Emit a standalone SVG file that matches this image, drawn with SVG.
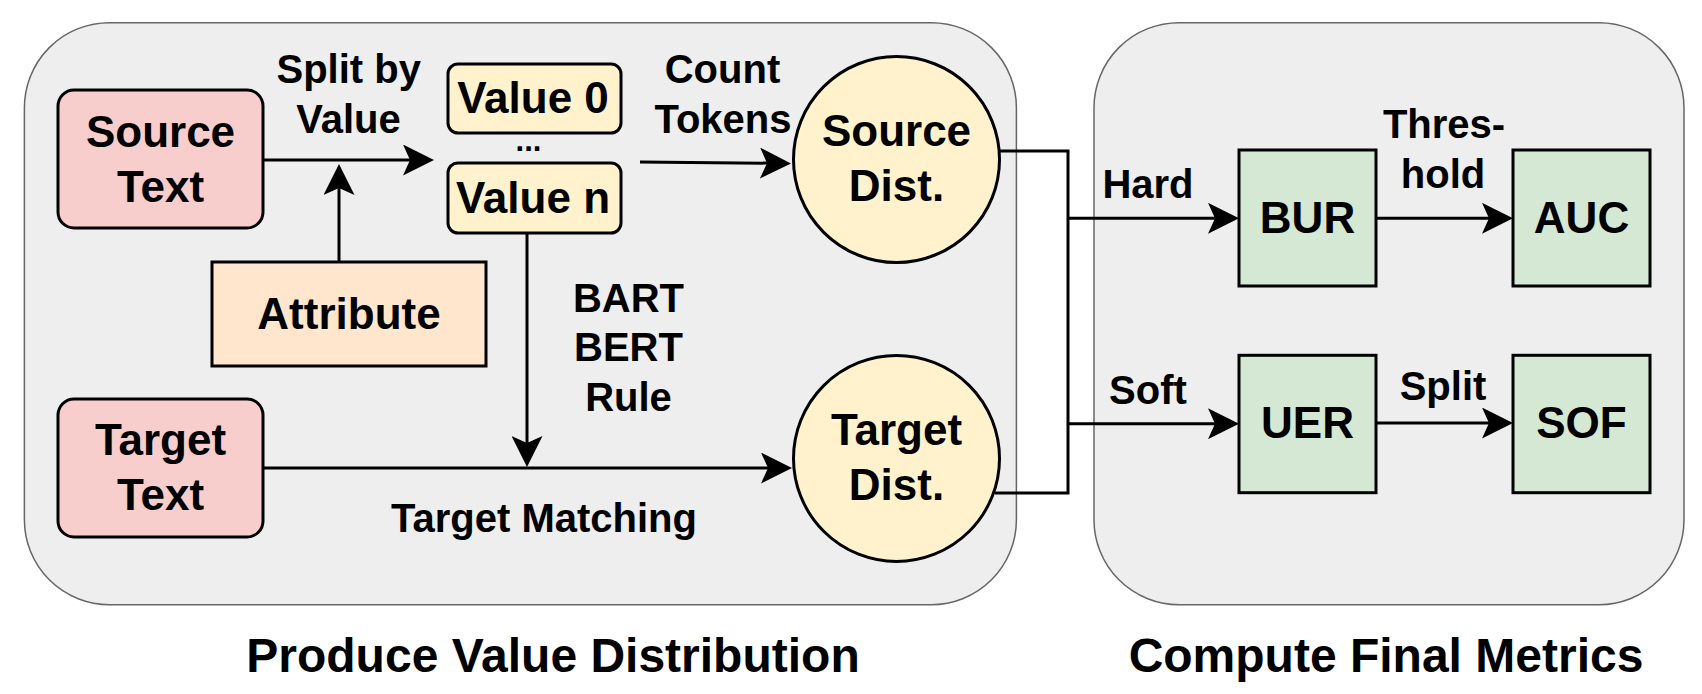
<svg xmlns="http://www.w3.org/2000/svg" width="1702" height="694" viewBox="0 0 1702 694">
  <style>
    .cont { fill: #eeeeee; stroke: #666666; stroke-width: 1.5; }
    .node { stroke: #000000; stroke-width: 3; }
    .red { fill: #f8cecc; }
    .yel { fill: #fff2cc; }
    .org { fill: #ffe6cc; }
    .grn { fill: #d5e8d4; }
    text { font-family: "Liberation Sans", Arial, Helvetica, sans-serif; font-weight: bold; fill: #000000; text-anchor: middle; }
    .nt { font-size: 44px; }
    .lb { font-size: 40px; }
    .dots { font-size: 31px; }
    .tt { font-size: 48px; }
    .edge { fill: none; stroke: #000000; stroke-width: 3; }
  </style>
  <defs>
    <marker id="arr" viewBox="0 0 31 31" markerWidth="31" markerHeight="31" markerUnits="userSpaceOnUse" refX="21" refY="15.5" orient="auto">
      <path d="M0,0 L31,15.5 L0,31 L7,15.5 Z" fill="#000000"/>
    </marker>
  </defs>

  <g id="containers">
    <rect id="produce-panel" class="cont" x="24.4" y="22.7" width="992" height="582" rx="85" ry="85"/>
    <rect id="compute-panel" class="cont" x="1094" y="22.7" width="590" height="582" rx="85" ry="85"/>
  </g>

  <g id="connectors">
    <path class="edge" d="M263,160 H424" marker-end="url(#arr)"/>
    <path class="edge" d="M339,262 V174" marker-end="url(#arr)"/>
    <path class="edge" d="M527,233 V457" marker-end="url(#arr)"/>
    <path class="edge" d="M640,162 L781,163.3" marker-end="url(#arr)"/>
    <path class="edge" d="M263,468 H782" marker-end="url(#arr)"/>
    <path class="edge" d="M999,151 H1068 V493 H995"/>
    <path class="edge" d="M1068,218.3 H1229" marker-end="url(#arr)"/>
    <path class="edge" d="M1068,423.7 H1229" marker-end="url(#arr)"/>
    <path class="edge" d="M1376,218.3 H1503" marker-end="url(#arr)"/>
    <path class="edge" d="M1376,423 H1503" marker-end="url(#arr)"/>
  </g>

  <g id="edge-labels">
    <text class="lb" x="348.7" y="83.3">Split by</text>
    <text class="lb" x="348.5" y="133.3">Value</text>
    <text class="lb" x="722.5" y="83.3">Count</text>
    <text class="lb" x="723" y="133.3">Tokens</text>
    <text class="lb" x="628.5" y="311.5">BART</text>
    <text class="lb" x="628.5" y="361">BERT</text>
    <text class="lb" x="628.5" y="411">Rule</text>
    <text class="lb" x="544" y="532">Target Matching</text>
    <text class="lb" x="1148" y="198.3">Hard</text>
    <text class="lb" x="1148" y="403.7">Soft</text>
    <text class="lb" x="1444" y="138.3">Thres-</text>
    <text class="lb" x="1443" y="188.3">hold</text>
    <text class="lb" x="1443" y="400.3">Split</text>
    <text class="dots" x="528.5" y="151">...</text>
  </g>

  <g id="source-text">
    <rect class="node red" x="58" y="90" width="205" height="138" rx="16" ry="16"/>
    <text class="nt" x="160.5" y="146.7">Source</text>
    <text class="nt" x="160.5" y="201.7">Text</text>
  </g>
  <g id="target-text">
    <rect class="node red" x="58" y="399" width="205" height="138" rx="16" ry="16"/>
    <text class="nt" x="160.5" y="455.3">Target</text>
    <text class="nt" x="160.5" y="510.3">Text</text>
  </g>
  <g id="attribute">
    <rect class="node org" x="212" y="262" width="274" height="104"/>
    <text class="nt" x="349" y="329">Attribute</text>
  </g>
  <g id="value-0">
    <rect class="node yel" x="448" y="64" width="173" height="69" rx="10" ry="10"/>
    <text class="nt" x="533" y="112.7">Value 0</text>
  </g>
  <g id="value-n">
    <rect class="node yel" x="448" y="163" width="173" height="70" rx="10" ry="10"/>
    <text class="nt" x="533" y="213.3">Value n</text>
  </g>
  <g id="source-dist">
    <circle class="node yel" cx="896.5" cy="159.5" r="103"/>
    <text class="nt" x="896.5" y="146">Source</text>
    <text class="nt" x="896.5" y="201">Dist.</text>
  </g>
  <g id="target-dist">
    <circle class="node yel" cx="896.5" cy="458.4" r="103"/>
    <text class="nt" x="896.5" y="445">Target</text>
    <text class="nt" x="896.5" y="500">Dist.</text>
  </g>
  <g id="bur">
    <rect class="node grn" x="1239" y="150" width="137" height="136"/>
    <text class="nt" x="1307.5" y="232.7">BUR</text>
  </g>
  <g id="auc">
    <rect class="node grn" x="1513" y="150" width="137" height="136"/>
    <text class="nt" x="1581.5" y="232.7">AUC</text>
  </g>
  <g id="uer">
    <rect class="node grn" x="1239" y="355.3" width="137" height="137.4"/>
    <text class="nt" x="1307.5" y="437.7">UER</text>
  </g>
  <g id="sof">
    <rect class="node grn" x="1513" y="355.3" width="137" height="137.4"/>
    <text class="nt" x="1581.5" y="437.7">SOF</text>
  </g>

  <g id="titles">
    <text class="tt" x="553" y="672">Produce Value Distribution</text>
    <text class="tt" x="1386" y="672">Compute Final Metrics</text>
  </g>
</svg>
